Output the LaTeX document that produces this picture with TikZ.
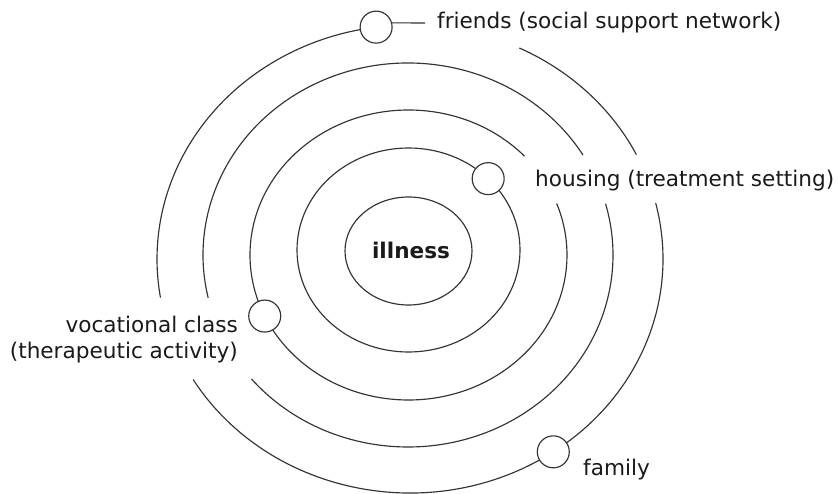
\documentclass[tikz,border=0pt]{standalone}
\usepackage{fontspec}
\setmainfont{DejaVu Sans}
\usetikzlibrary{calc}
\definecolor{ink}{HTML}{333333}
\definecolor{txt}{HTML}{1A1A1A}
\begin{document}
\begin{tikzpicture}[x=1pt,y=1pt,
  ring/.style={draw=ink, line width=1.15pt},
  orb/.style={circle, draw=ink, fill=white, line width=1.15pt, minimum size=32pt, inner sep=0pt},
  lbl/.style={inner sep=0pt, text=txt, font=\fontsize{21.6}{26}\selectfont}]
\useasboundingbox[fill=white] (0,0) rectangle (838,-494);
% ring centres
\coordinate (c1) at (408.5,-251);
\coordinate (c2) at (408.5,-250);
\coordinate (c3) at (408.5,-255);
\coordinate (c4) at (408,-255);
\coordinate (c5) at (410,-259);
% ring 1 and 2 (complete)
\draw[ring] (c1) ellipse[x radius=63.5, y radius=54];
\draw[ring] (c2) ellipse[x radius=111.5, y radius=102];
% ring 3 (gap at housing label)
\draw[ring] ($(c3)+(43:158.5 and 145)$) arc[start angle=43, end angle=380.8, x radius=158.5, y radius=145];
% ring 4 (gaps at housing and vocational labels)
\draw[ring] ($(c4)+(31.4:205 and 192)$) arc[start angle=31.4, end angle=192.9, x radius=205, y radius=192];
\draw[ring] ($(c4)+(220.2:205 and 192)$) arc[start angle=220.2, end angle=375.5, x radius=205, y radius=192];
% ring 5
\draw[ring] ($(c5)+(26.5:253 and 234)$) arc[start angle=26.5, end angle=64.4, x radius=253, y radius=234];
\draw[ring] ($(c5)+(97.7:253 and 234)$) arc[start angle=97.7, end angle=189.5, x radius=253, y radius=234];
\draw[ring] ($(c5)+(211:253 and 234)$) arc[start angle=211, end angle=373.8, x radius=253, y radius=234];
% small circles on the rings
\node[orb] (friendsdot) at ($(c5)+(97.7:253 and 234)$) {};
\node[orb] (housingdot) at ($(c2)+(44.4:111.5 and 102)$) {};
\node[orb] (vocdot) at ($(c3)+(204.9:158.5 and 145)$) {};
\node[orb] (familydot) at ($(c5)+(304.5:253 and 234)$) {};
% labels
\node[lbl, anchor=base west] (friends) at (437,-29) {friends (social support network)};
\node[lbl, anchor=base west] (housing) at (535,-187) {housing (treatment setting)};
\node[lbl, anchor=base east] (voc1) at (238,-332) {vocational class};
\node[lbl, anchor=base east] (voc2) at (238,-358) {(therapeutic activity)};
\node[lbl, anchor=base west] (family) at (583,-475) {family};
\node[lbl, anchor=base, font=\fontsize{21.6}{26}\selectfont\bfseries] (illness) at (411,-259) {illness};
% connector from friends circle towards its label
\coordinate (fend) at (425,-23);
\draw[ring] (friendsdot.15) -- (fend);
\end{tikzpicture}
\end{document}
